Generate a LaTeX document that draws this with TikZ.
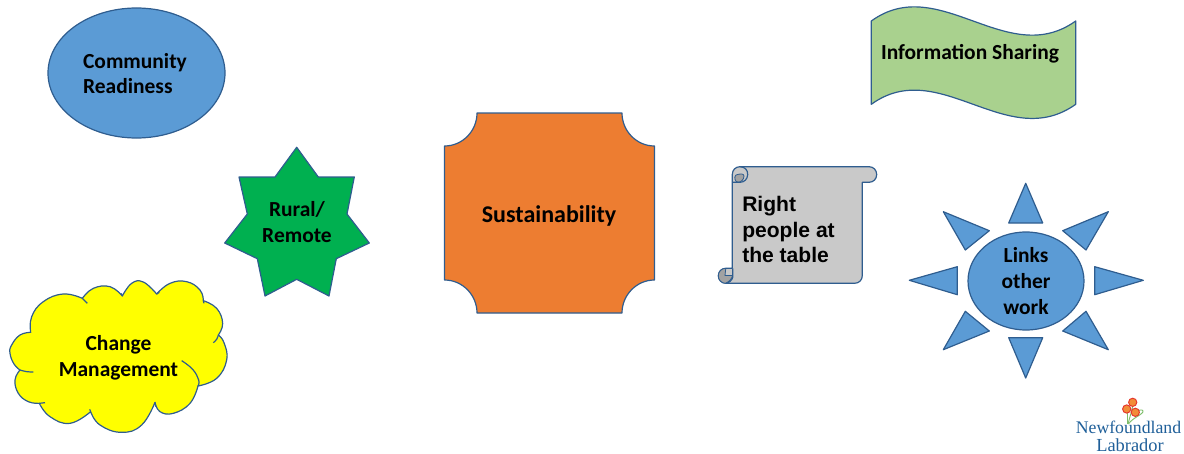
\documentclass[tikz,border=0pt]{standalone}
\usepackage{fontspec}
\usetikzlibrary{shapes.geometric}
\setmainfont{Carlito}
\newfontfamily\arialfont{Liberation Sans}
\newfontfamily\logofont{Liberation Serif}
\definecolor{edgeblue}{HTML}{2F5D8F}
\definecolor{fillblue}{HTML}{5B9BD5}
\definecolor{fillorange}{HTML}{ED7D31}
\definecolor{fillgreen}{HTML}{00B050}
\definecolor{fillyellow}{HTML}{FFFF00}
\definecolor{filllime}{HTML}{A9D18E}
\definecolor{fillgray}{HTML}{C9C9C9}
\definecolor{curlgray}{HTML}{A2A2A2}
\definecolor{logoblue}{HTML}{1F5F99}
\definecolor{logogreen}{HTML}{7DBE6A}
\definecolor{logoorange}{HTML}{F28C38}
\definecolor{logored}{HTML}{E5352B}
\tikzset{
  x=0.75pt,y=-0.75pt,
  shapeline/.style={draw=edgeblue,line width=0.9pt,line join=round},
  lab/.style={font=\bfseries\fontsize{16.1}{19.3}\selectfont,align=center,inner sep=0pt,text=black},
  bump/.style={smooth,tension=0.75},
  flower/.style={circle,fill=logoorange,draw=logored,line width=0.7pt,minimum size=6.2pt,inner sep=0pt},
}
\begin{document}
\begin{tikzpicture}
\useasboundingbox (0,0) rectangle (1184,453);
% Community Readiness
\node[ellipse,shapeline,fill=fillblue,minimum width=132.75pt,minimum height=97.5pt,inner sep=0pt] (community) at (136.5,73) {};
\node[lab,align=left] (communitytext) at (135,73.5) {Community\\Readiness};
% Rural / Remote star
\path[shapeline,fill=fillgreen] (296.7,147.3) -- (318.3,177) -- (354.3,177) -- (347,214) -- (369.3,243) -- (336.3,258.7) -- (329,296) -- (296.7,279.3) -- (265,296) -- (257.3,258.7) -- (224.7,243) -- (247.3,214) -- (239,177) -- (275,177) -- cycle;
\node[lab] (rural) at (297,222) {Rural/\\Remote};
% Change Management cloud (traced in a 3x frame)
\begin{scope}[x=0.25pt,y=-0.25pt,shift={(0pt,-202.5pt)}]
\path[shapeline,fill=fillyellow]
 plot[bump] coordinates {(92,187) (60,195) (35,225) (30,250) (42,282) (60,300)}
 -- plot[bump] coordinates {(60,300) (45,330) (55,370) (85,395) (118,400)}
 -- plot[bump] coordinates {(118,400) (150,440) (210,460) (272,425)}
 -- plot[bump] coordinates {(272,425) (300,465) (365,487) (425,465) (465,397)}
 -- plot[bump] coordinates {(465,397) (480,425) (520,430) (570,400) (594,348)}
 -- plot[bump] coordinates {(594,348) (650,325) (680,270) (672,218) (655,195)}
 -- plot[bump] coordinates {(655,195) (668,160) (650,115) (610,92)}
 -- plot[bump] coordinates {(610,92) (600,60) (560,35) (510,40) (470,72)}
 -- plot[bump] coordinates {(470,72) (430,36) (395,40) (367,78)}
 -- plot[bump] coordinates {(367,78) (330,50) (280,55) (247,85)}
 -- plot[bump] coordinates {(247,85) (190,72) (130,95) (95,140) (92,187)}
 -- cycle;
\draw[shapeline] plot[bump] coordinates {(60,300) (80,305) (100,306)};
\draw[shapeline] plot[bump] coordinates {(545,272) (578,298) (596,330) (594,348)};
\draw[shapeline] plot[bump] coordinates {(655,195) (650,208) (640,218)};
\draw[shapeline] (247,85) -- (262,100);
\draw[shapeline] (118,400) -- (135,398);
\draw[shapeline] (272,425) -- (269,418);
\draw[shapeline] (465,397) -- (467,410);
\draw[shapeline] (470,72) -- (478,67);
\draw[shapeline] (610,92) -- (612,100);
\draw[shapeline] (367,78) -- (364,70);
\end{scope}
\node[lab] (change) at (118.5,357.5) {Change\\Management};
% Sustainability plaque
\path[shapeline,fill=fillorange] (477,113) -- (622,113)
 .. controls (622,131) and (636.5,146) .. (654.5,146) -- (654.5,280)
 .. controls (636.5,280) and (622,295) .. (622,313) -- (477,313)
 .. controls (477,295) and (462.5,280) .. (444.5,280) -- (444.5,146)
 .. controls (462.5,146) and (477,131) .. (477,113) -- cycle;
\node[lab,font=\bfseries\fontsize{18}{21}\selectfont] (sustain) at (549,216) {Sustainability};
% Information Sharing wave
\path[shapeline,fill=filllime] (871.3,21) .. controls (939,-28) and (1007,70) .. (1075.7,21) -- (1075.7,104.3)
 .. controls (1007,153.3) and (939,55.3) .. (871.3,104.3) -- cycle;
\node[lab] (info) at (970,54) {Information Sharing};
% Right people scroll
\path[shapeline,fill=fillgray] (732.3,174.5) .. controls (732.3,170) and (735.5,166.7) .. (740,166.7) -- (869,166.7)
 .. controls (873.3,166.7) and (876.7,170) .. (876.7,174.5) .. controls (876.7,179) and (873.3,182.3) .. (869,182.3)
 -- (862.3,182.3) -- (862.3,275.5) .. controls (862.3,280) and (859,283.3) .. (854.5,283.3) -- (725.8,283.3)
 .. controls (721.6,283.3) and (718.3,280) .. (718.3,275.8) .. controls (718.3,271.6) and (721.6,268.3) .. (725.8,268.3)
 -- (732.3,268.3) -- cycle;
\path[shapeline,fill=curlgray,line width=0.6pt] (736,175) .. controls (740,173.5) and (744,173.5) .. (744,176) .. controls (744,179.5) and (741,182.3) .. (738,182.3) .. controls (735,182) and (733.5,177) .. (736,175) -- cycle;
\draw[shapeline] (740,166.7) .. controls (744.5,166.7) and (748,170) .. (747.7,174.5) .. controls (747.5,179) and (744.5,182.3) .. (740,182.3) -- (733,182.3);
\path[shapeline,fill=curlgray,line width=0.6pt] (725.8,268.3) .. controls (721.6,268.3) and (718.3,271.6) .. (718.3,275.8) .. controls (718.3,280) and (721.6,283.3) .. (725.8,283.3) .. controls (729,281.5) and (732,279) .. (732.5,275.5) -- (725,275.5) -- cycle;
\draw[shapeline] (732.8,268.3) -- (732.8,277) .. controls (732.3,280) and (729,283) .. (725.8,283.3);
\node[font=\arialfont\bfseries\fontsize{15.8}{19.1}\selectfont,align=left,anchor=west,inner sep=0pt] (right) at (742,229.5) {Right\\people at\\the table};
% Links other work sun
\path[shapeline,fill=fillblue] (1025.7,183.3) -- (1042.7,223) -- (1008.7,223) -- cycle;
\path[shapeline,fill=fillblue] (1108.3,211.7) -- (1086,250) -- (1062.7,230.7) -- cycle;
\path[shapeline,fill=fillblue] (1143.3,280.3) -- (1094.7,266.7) -- (1094.7,294.7) -- cycle;
\path[shapeline,fill=fillblue] (1108.3,349.7) -- (1086,311.3) -- (1062.7,331) -- cycle;
\path[shapeline,fill=fillblue] (1025.7,378) -- (1008.7,337.7) -- (1042.7,337.7) -- cycle;
\path[shapeline,fill=fillblue] (943.3,349.7) -- (965.3,311.3) -- (989.3,331) -- cycle;
\path[shapeline,fill=fillblue] (909.3,280.3) -- (957.3,266.7) -- (957.3,294.7) -- cycle;
\path[shapeline,fill=fillblue] (943.3,211.7) -- (965.3,250) -- (989.3,230.7) -- cycle;
\node[ellipse,shapeline,fill=fillblue,minimum width=87pt,minimum height=73.5pt,inner sep=0pt,lab] (links) at (1026,281) {Links\\other\\work};
% Logo
\draw[logogreen,line width=0.7pt] (1128,424) .. controls (1130,416) and (1133,408) .. (1133,402);
\draw[logogreen,line width=0.7pt] (1128.5,424) .. controls (1132,418) and (1144,414) .. (1143,411) .. controls (1142,409) and (1139,410) .. (1136,412);
\draw[logogreen,line width=0.7pt] (1127,424) .. controls (1127,418) and (1127,414) .. (1127,409);
\node[flower] (fa) at (1126.7,409) {};
\node[flower] (fb) at (1132.7,402.3) {};
\node[flower] (fc) at (1135.3,412.3) {};
\node[font=\logofont\fontsize{13.3}{13.3}\selectfont,text=logoblue,inner sep=0pt] (logoa) at (1128.5,427.5) {Newfoundland};
\node[font=\logofont\fontsize{13.8}{13.8}\selectfont,text=logoblue,inner sep=0pt] (logob) at (1130,445) {Labrador};
\end{tikzpicture}
\end{document}
